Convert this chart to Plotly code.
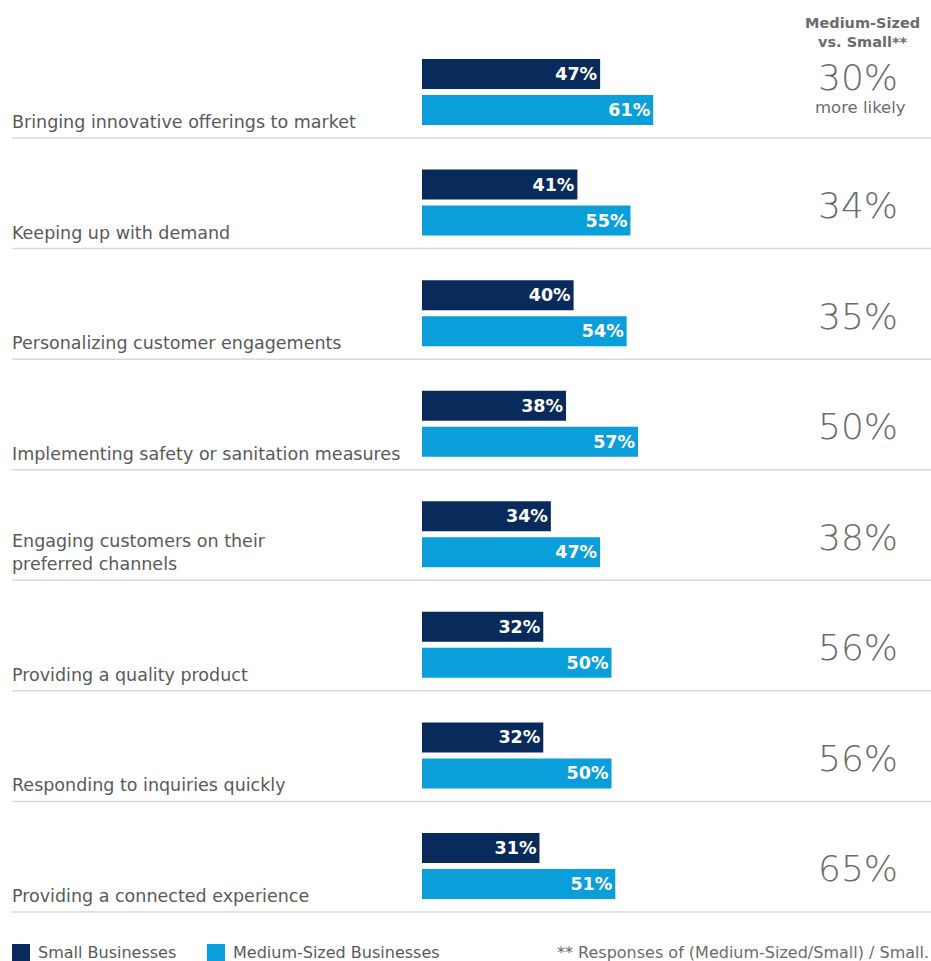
import plotly.graph_objects as go

# Survey categories (top to bottom) and share of respondents per business size
categories = [
    "Bringing innovative offerings to market",
    "Keeping up with demand",
    "Personalizing customer engagements",
    "Implementing safety or sanitation measures",
    "Engaging customers on their<br>preferred channels",
    "Providing a quality product",
    "Responding to inquiries quickly",
    "Providing a connected experience",
]
small = [47, 41, 40, 38, 34, 32, 32, 31]
medium = [61, 55, 54, 57, 47, 50, 50, 51]
series_names = ["Small Businesses", "Medium-Sized Businesses"]

DARK = "#082b5c"
LIGHT = "#0a9fda"
GRAY = "#6b6b6b"
LABEL = "#595959"
FONT = "DejaVu Sans"

W, H = 931, 961
ROW_PX = 110.57      # vertical pitch of one category row
ROW0_PX = 92         # centre of the first row
X0_PX = 422          # where the bars start
PX_PER_PCT = 3.79

rows = list(range(len(categories)))
y_top = -ROW0_PX / ROW_PX
y_bot = (H - ROW0_PX) / ROW_PX
bar_w = 30 / ROW_PX
gap = 6 / ROW_PX

bar_text = dict(color="white", size=17.5, family=FONT, weight="bold")

fig = go.Figure()
fig.add_trace(go.Bar(
    y=rows, x=small, orientation="h", name=series_names[0],
    marker=dict(color=DARK, line=dict(width=0)),
    width=bar_w, offset=-gap / 2 - bar_w,
    texttemplate="%{x}%", textposition="inside", insidetextanchor="end",
    textfont=bar_text, constraintext="none", hoverinfo="skip",
))
fig.add_trace(go.Bar(
    y=rows, x=medium, orientation="h", name=series_names[1],
    marker=dict(color=LIGHT, line=dict(width=0)),
    width=bar_w, offset=gap / 2,
    texttemplate="%{x}%", textposition="inside", insidetextanchor="end",
    textfont=bar_text, constraintext="none", hoverinfo="skip",
))

shapes = []
annotations = []
for i, label in enumerate(categories):
    # row separator
    sep_y = i + (138 - ROW0_PX) / ROW_PX
    shapes.append(dict(type="line", xref="paper", yref="y",
                       x0=12 / W, x1=1, y0=sep_y, y1=sep_y,
                       line=dict(color="#d9d9d9", width=1.5)))
    # category label, bottom-aligned in the row
    annotations.append(dict(
        text=label, xref="paper", yref="y", x=10 / W, y=i + 42 / ROW_PX,
        xanchor="left", yanchor="bottom", showarrow=False, align="left",
        font=dict(family=FONT, size=17.5, color=LABEL)))
    # relative difference, medium vs. small
    diff = round((medium[i] / small[i] - 1) * 100)
    y_off = -15 if i == 0 else 3
    annotations.append(dict(
        text=f"{diff}%", xref="paper", yref="y", x=858 / W,
        y=i + y_off / ROW_PX, xanchor="center", yanchor="middle",
        showarrow=False,
        font=dict(family=FONT, size=36, color=GRAY, weight=200)))
    if i == 0:
        # caption under the first number
        annotations.append(dict(
            text="more likely", xref="paper", yref="y", x=860 / W,
            y=i + 15 / ROW_PX, xanchor="center", yanchor="middle",
            showarrow=False, font=dict(family=FONT, size=16.5, color=GRAY)))

# column header
annotations.append(dict(
    text="Medium-Sized<br>vs. Small**", xref="paper", yref="paper",
    x=862 / W, y=1 - 32 / H, xanchor="center", yanchor="middle",
    showarrow=False, align="center",
    font=dict(family=FONT, size=14.5, color=GRAY, weight="bold")))

# legend: colour swatch followed by series name
legend_items = [(DARK, 12), (LIGHT, 207)]
for (color, x_px), name in zip(legend_items, series_names):
    shapes.append(dict(type="rect", xref="paper", yref="paper",
                       x0=x_px / W, x1=(x_px + 18) / W,
                       y0=1 - 961 / H, y1=1 - 944 / H,
                       fillcolor=color, line=dict(width=0)))
    annotations.append(dict(
        text=name, xref="paper", yref="paper", x=(x_px + 24) / W,
        y=1 - 952 / H, xanchor="left", yanchor="middle", showarrow=False,
        font=dict(family=FONT, size=16, color=LABEL)))

# footnote
annotations.append(dict(
    text="** Responses of (Medium-Sized/Small) / Small.", xref="paper",
    yref="paper", x=1, y=1 - 952 / H, xanchor="right", yanchor="middle",
    showarrow=False, font=dict(family=FONT, size=16, color=GRAY)))

fig.update_layout(
    width=W, height=H, margin=dict(l=0, r=0, t=0, b=0),
    paper_bgcolor="white", plot_bgcolor="white",
    barmode="overlay", shapes=shapes, annotations=annotations,
    showlegend=False,
    xaxis=dict(domain=[X0_PX / W, 1], range=[0, (W - X0_PX) / PX_PER_PCT],
               visible=False, fixedrange=True),
    yaxis=dict(range=[y_bot, y_top], visible=False, fixedrange=True),
)

fig.write_html("out.html")
